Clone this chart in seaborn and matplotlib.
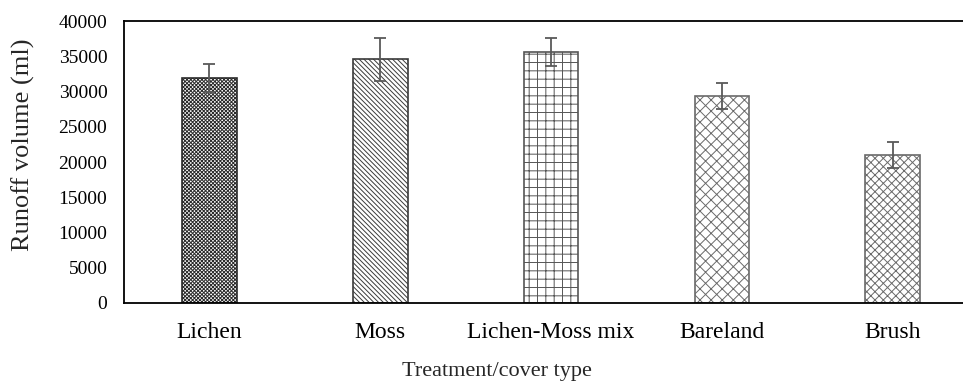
import matplotlib
matplotlib.use("Agg")
import matplotlib.pyplot as plt
import seaborn as sns
import pandas as pd

# Runoff volume per treatment / cover type
categories = ["Lichen", "Moss", "Lichen-Moss mix", "Bareland", "Brush"]
runoff_ml = [32000, 34600, 35700, 29400, 21000]
runoff_err = [2000, 3000, 2000, 1800, 1850]
y_ticks = [0, 5000, 10000, 15000, 20000, 25000, 30000, 35000, 40000]

hatches = ["xxxxxxxxx", "\\\\\\\\\\\\\\", "++", "xxx", "xxxx"]
hatch_colors = ["#2b2b2b", "#3a3a3a", "#555555", "#6a6a6a", "#6a6a6a"]

sns.set_theme(style="white")
plt.rcParams["font.family"] = ["Liberation Serif", "DejaVu Serif"]
plt.rcParams["hatch.linewidth"] = 0.7

df = pd.DataFrame({"cover": categories, "runoff": runoff_ml})

fig = plt.figure(figsize=(9.63, 3.83), dpi=100)
ax = fig.add_axes([0.1288, 0.2097, 0.887, 0.7342])

sns.barplot(data=df, x="cover", y="runoff", order=categories, color="white",
            width=0.32, errorbar=None, ax=ax, saturation=1)

for patch, h, c in zip(ax.patches, hatches, hatch_colors):
    patch.set_hatch(h)
    patch.set_edgecolor(c)
    patch.set_linewidth(1.2)
    patch.set_facecolor("white")

ax.errorbar(range(len(categories)), runoff_ml, yerr=runoff_err, fmt="none",
            ecolor="#595959", elinewidth=1.3, capsize=4, capthick=1.3, zorder=5)

ax.set_ylim(0, 40000)
ax.set_xlim(-0.5, len(categories) - 0.5)
ax.set_yticks(y_ticks)
ax.set_yticklabels([str(t) for t in y_ticks])
ax.tick_params(axis="both", length=0, colors="black")
ax.tick_params(axis="x", pad=14, labelsize=17)
ax.tick_params(axis="y", pad=12, labelsize=14)

ax.set_xlabel("Treatment/cover type", fontsize=16, ha="left", va="baseline")
ax.xaxis.set_label_coords(0.3253, -0.2607)
ax.set_ylabel("Runoff volume (ml)", fontsize=19, va="center")
ax.yaxis.set_label_coords(-0.118, 0.56)

for side in ["left", "top", "bottom"]:
    ax.spines[side].set_visible(True)
    ax.spines[side].set_color("black")
    ax.spines[side].set_linewidth(1.3)
ax.spines["right"].set_visible(False)

fig.savefig("out.png", dpi=100)
